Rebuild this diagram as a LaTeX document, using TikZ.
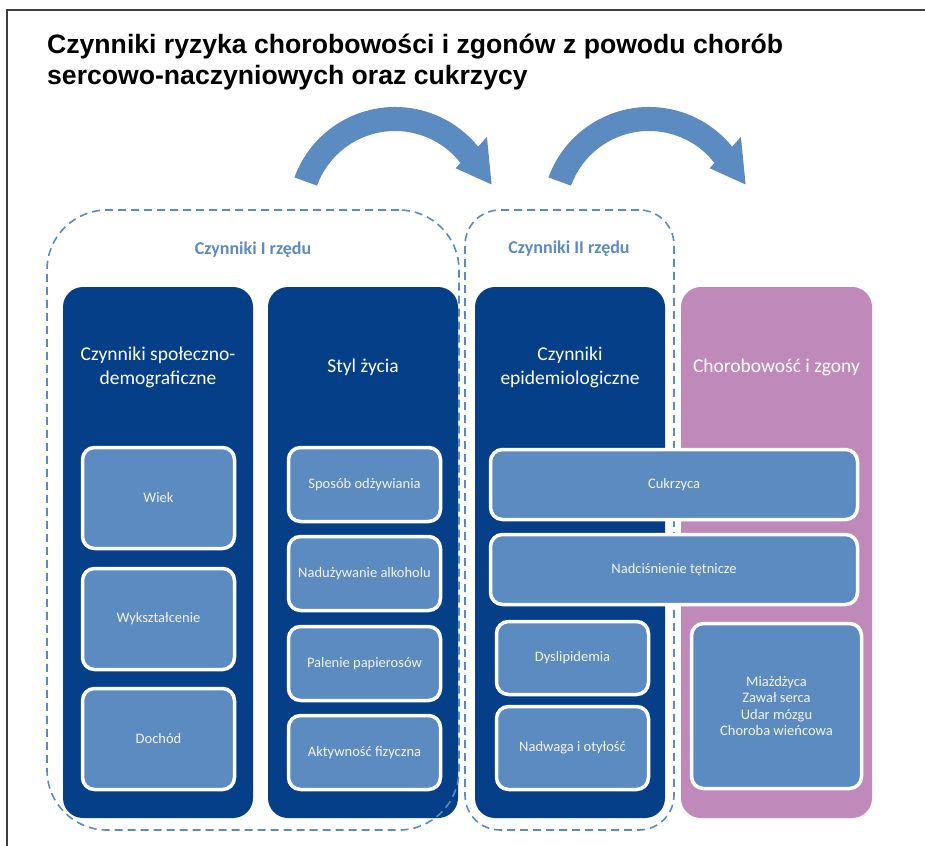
\documentclass[tikz,border=0pt]{standalone}
\usepackage{fontspec}
\setmainfont{Carlito}
\newfontfamily\titlefont{Liberation Sans}
\definecolor{dblue}{HTML}{043F88}
\definecolor{lblue}{HTML}{5B8BC1}
\definecolor{pinkc}{HTML}{BF8AB9}
\definecolor{dashc}{HTML}{5B8BC1}
\definecolor{framec}{HTML}{3F3F3F}
\definecolor{itext}{HTML}{F4F4F4}
\begin{document}
\begin{tikzpicture}[x=1pt,y=-1pt,
  col/.style={rectangle, rounded corners=20pt, inner sep=0pt, draw=none},
  hdr/.style={text=white, align=center, font=\fontsize{19.5}{24}\selectfont, inner sep=0pt},
  grp/.style={rectangle, draw=dashc, line width=1.6pt, dash pattern=on 8pt off 5pt, inner sep=0pt},
  glabel/.style={text=dashc, font=\fontsize{18}{21}\selectfont\bfseries, inner sep=0pt},
  inb/.style={rectangle, fill=lblue, draw=white, line width=3.5pt, rounded corners=12pt, text=itext, align=center, font=\fontsize{14.5}{16.3}\selectfont, inner sep=0pt},
  bigarrow/.style={fill=lblue, draw=none},
  ttl/.style={font=\titlefont\fontsize{26.6}{31}\selectfont\bfseries, anchor=base west, inner sep=0pt, text=black}
]
\useasboundingbox (0,0) rectangle (925,845);
\fill[white] (0,0) rectangle (925,845);
% frame
\draw[framec, line width=2pt] (7,846) -- (7,10.5) -- (926,10.5);
% title
\node[ttl] (t1) at (47,53.5) {Czynniki ryzyka chorobowości i zgonów z powodu chorób};
\node[ttl] (t2) at (47,85) {sercowo-naczyniowych oraz cukrzycy};
% curved arrows
\begin{scope}[shift={(395,214)}]
\fill[bigarrow] (160:107pt) arc[start angle=160, end angle=39, radius=107pt] -- (40:120pt) -- (17:101pt) -- (37:76pt) -- (38:83pt) arc[start angle=38, end angle=160, radius=83pt] -- cycle;
\end{scope}
\begin{scope}[shift={(649,214)}]
\fill[bigarrow] (160:107pt) arc[start angle=160, end angle=39, radius=107pt] -- (40:120pt) -- (17:101pt) -- (37:76pt) -- (38:83pt) arc[start angle=38, end angle=160, radius=83pt] -- cycle;
\end{scope}
% columns
\node[col, fill=dblue, minimum width=190pt, minimum height=531pt] (c1) at (158,552.5) {};
\node[col, fill=dblue, minimum width=190pt, minimum height=531pt] (c2) at (363,552.5) {};
\node[col, fill=dblue, minimum width=190pt, minimum height=531pt] (c3) at (570,552.5) {};
\node[col, fill=pinkc, minimum width=191pt, minimum height=531pt] (c4) at (776.5,552.5) {};
\node[hdr] (h1) at (158,367) {Czynniki społeczno-\\demograficzne};
\node[hdr] (h2) at (363,367) {Styl życia};
\node[hdr] (h3) at (570,367) {Czynniki\\epidemiologiczne};
\node[hdr] (h4) at (776.5,367) {Chorobowość i zgony};
% dashed groups
\node[grp, rounded corners=60pt, minimum width=412pt, minimum height=620pt] (g1) at (253,520) {};
\node[grp, rounded corners=35pt, minimum width=209pt, minimum height=620pt] (g2) at (569.5,520) {};
\node[glabel] (l1) at (253,250) {Czynniki I rzędu};
\node[glabel] (l2) at (569,249) {Czynniki II rzędu};
% inner boxes column 1
\node[inb, minimum width=152pt, minimum height=101pt] (b11) at (158.5,498) {Wiek};
\node[inb, minimum width=152pt, minimum height=101pt] (b12) at (158.5,619) {Wykształcenie};
\node[inb, minimum width=152pt, minimum height=101pt] (b13) at (158.5,739) {Dochód};
% column 2
\node[inb, minimum width=152pt, minimum height=74pt] (b21) at (364.5,484.5) {Sposób odżywiania};
\node[inb, minimum width=152pt, minimum height=74pt] (b22) at (364.5,573.5) {Nadużywanie alkoholu};
\node[inb, minimum width=152pt, minimum height=74pt] (b23) at (364.5,663.5) {Palenie papierosów};
\node[inb, minimum width=152pt, minimum height=74pt] (b24) at (364.5,752.5) {Aktywność fizyczna};
% column 3 / spanning
\node[inb, minimum width=367pt, minimum height=70pt] (b31) at (674,484.5) {Cukrzyca};
\node[inb, minimum width=367pt, minimum height=70pt] (b32) at (674,569.5) {Nadciśnienie tętnicze};
\node[inb, minimum width=152pt, minimum height=73pt] (b33) at (572.5,658) {Dyslipidemia};
\node[inb, minimum width=152pt, minimum height=83pt] (b34) at (572.5,748) {Nadwaga i otyłość};
% column 4
\node[inb, minimum width=170pt, minimum height=165pt] (b41) at (776.5,706) {Miażdżyca\\Zawał serca\\Udar mózgu\\Choroba wieńcowa};
\end{tikzpicture}
\end{document}
